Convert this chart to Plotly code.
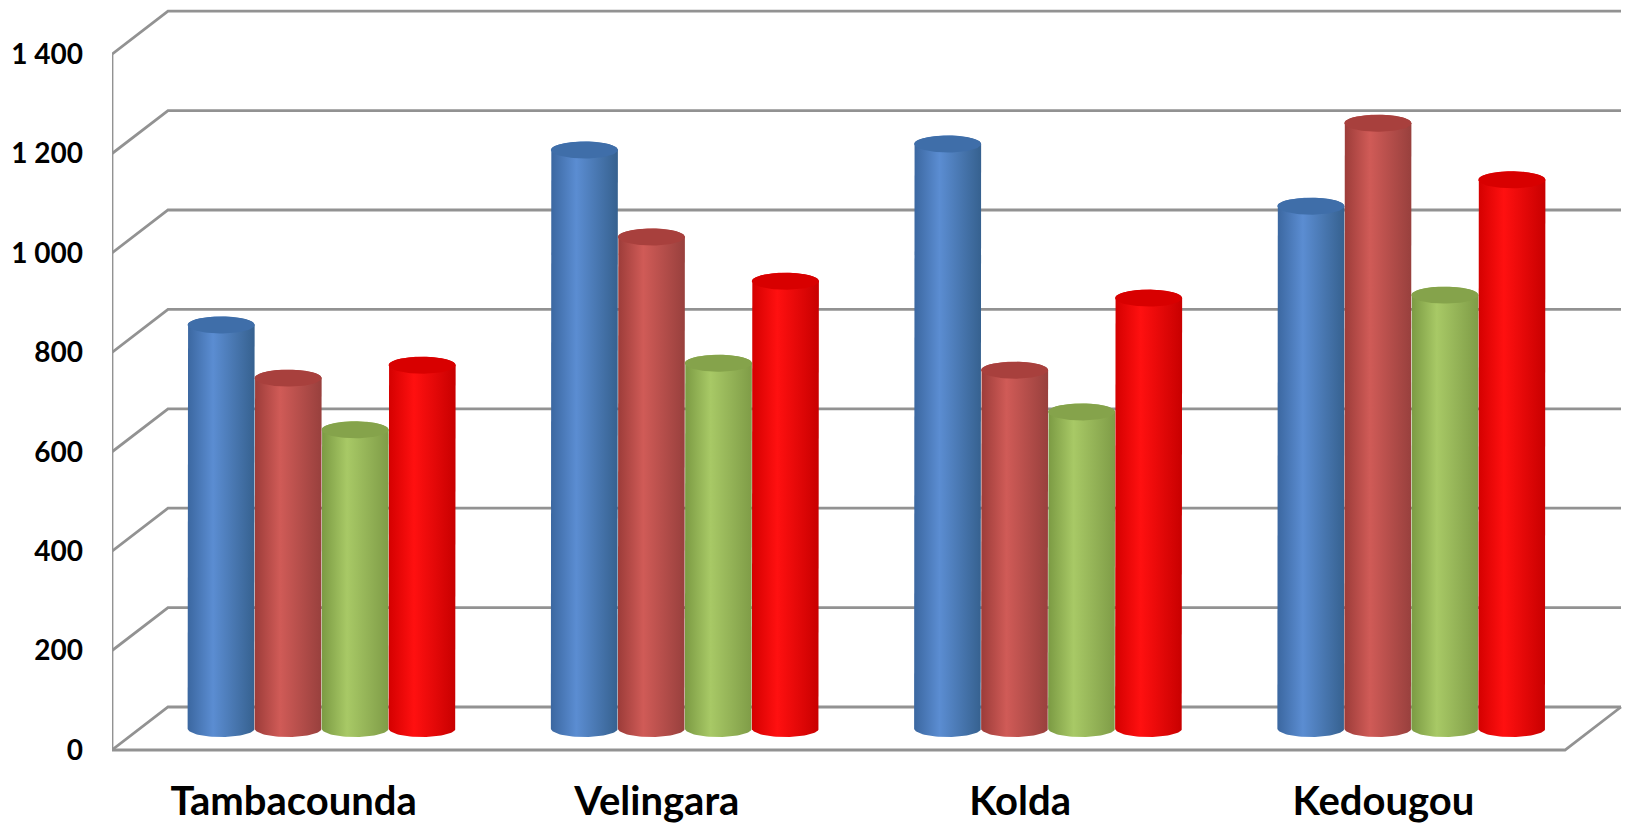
import numpy as np
import plotly.graph_objects as go

# ---------------- data ----------------
categories = ["Tambacounda", "Velingara", "Kolda", "Kedougou"]
series_names = ["Série 1", "Série 2", "Série 3", "Série 4"]
serie1 = [812, 1164, 1176, 1051]
serie2 = [705, 989, 721, 1218]
serie3 = [601, 735, 637, 872]
serie4 = [731, 900, 866, 1104]
y_ticks = [0, 200, 400, 600, 800, 1000, 1200, 1400]
y_tick_text = ["0", "200", "400", "600", "800", "1 000", "1 200", "1 400"]

series_values = [serie1, serie2, serie3, serie4]

# ---------------- styles ----------------
# body gradient (left edge, highlight, right edge) and top cap colour
body_colors = [
    ("#3b67a0", "#5b8dd2", "#36618f"),
    ("#9c3c39", "#d05b57", "#98403d"),
    ("#7b9a43", "#a8c966", "#7f9c47"),
    ("#d40000", "#ff1010", "#c80000"),
]
cap_colors = ["#3f6ea9", "#a8403d", "#85a34b", "#d80000"]
grid_color = "#929292"

W, H = 1633, 828
ML, MB = 112, 73
PX_PER_CAT = 363.25         # pixels per category slot
PX_PER_UNIT = 0.497         # pixels per value unit
X0_PX = 140                 # pixel of x=0 at mid depth
Y0_PX = 728.5               # pixel of value 0 at mid depth

DX = 28 / PX_PER_CAT        # half depth, in category units
DY = 21.5 / PX_PER_UNIT     # half depth, in value units
BAR_W = 67 / PX_PER_CAT
RY = 8.5 / PX_PER_UNIT
N_CAT = len(categories)

xr = [(ML - X0_PX) / PX_PER_CAT, (W - X0_PX) / PX_PER_CAT]
yr = [(Y0_PX - (H - MB)) / PX_PER_UNIT, Y0_PX / PX_PER_UNIT]

fig = go.Figure()

# ---------------- walls / grid ----------------
gx, gy = [], []
ymax = y_ticks[-1]
for v in y_ticks:
    gx += [-DX, DX, N_CAT + DX, None]
    gy += [v - DY, v + DY, v + DY, None]
# floor front edge and right side
gx += [-DX, N_CAT - DX, N_CAT + DX, None]
gy += [-DY, -DY, DY, None]
# front vertical axis line
gx += [-DX, -DX, None]
gy += [-DY, ymax - DY, None]
fig.add_trace(go.Scatter(x=gx, y=gy, mode="lines",
                         line=dict(color=grid_color, width=2.8),
                         hoverinfo="skip", showlegend=False))

# ---------------- cylinders ----------------
t = np.linspace(0, np.pi, 40)
t2 = np.linspace(0, 2 * np.pi, 80)
r = BAR_W / 2
for ci, cat in enumerate(categories):
    for si, vals in enumerate(series_values):
        v = vals[ci]
        cx = ci + 0.5 + (si - 1.5) * BAR_W
        bx = np.concatenate([[cx - r], cx - r * np.cos(t), [cx + r], cx + r * np.cos(t)])
        by = np.concatenate([[0], v + RY * np.sin(t), [0], -RY * np.sin(t)])
        c0, c1, c2 = body_colors[si]
        fig.add_trace(go.Scatter(
            x=bx, y=by, mode="lines", fill="toself",
            line=dict(width=0),
            fillgradient=dict(type="horizontal",
                              colorscale=[[0, c0], [0.38, c1], [1, c2]]),
            name=series_names[si], text=f"{cat}: {v}", hoverinfo="text",
            showlegend=False))
        fig.add_trace(go.Scatter(
            x=cx + r * np.cos(t2), y=v + RY * np.sin(t2), mode="lines",
            fill="toself", fillcolor=cap_colors[si], line=dict(width=0),
            hoverinfo="skip", showlegend=False))

font_family = "Lato, 'Open Sans', sans-serif"
fig.update_layout(
    width=W, height=H,
    margin=dict(l=ML, r=0, t=0, b=MB, pad=0),
    paper_bgcolor="white", plot_bgcolor="white",
    showlegend=False,
    xaxis=dict(range=xr, showgrid=False, zeroline=False, showline=False,
               tickmode="array",
               tickvals=[i + 0.5 - DX for i in range(N_CAT)],
               ticktext=categories, ticks="",
               ticklabelstandoff=19,
               tickfont=dict(family=font_family, size=40, color="black", weight=700)),
    yaxis=dict(range=yr, showgrid=False, zeroline=False, showline=False,
               tickmode="array",
               tickvals=[v - DY for v in y_ticks],
               ticktext=y_tick_text, ticks="",
               ticklabelstandoff=28,
               tickfont=dict(family=font_family, size=28, color="black", weight=700)),
)

fig.write_html("out.html", post_script="document.body.style.margin='0';")
